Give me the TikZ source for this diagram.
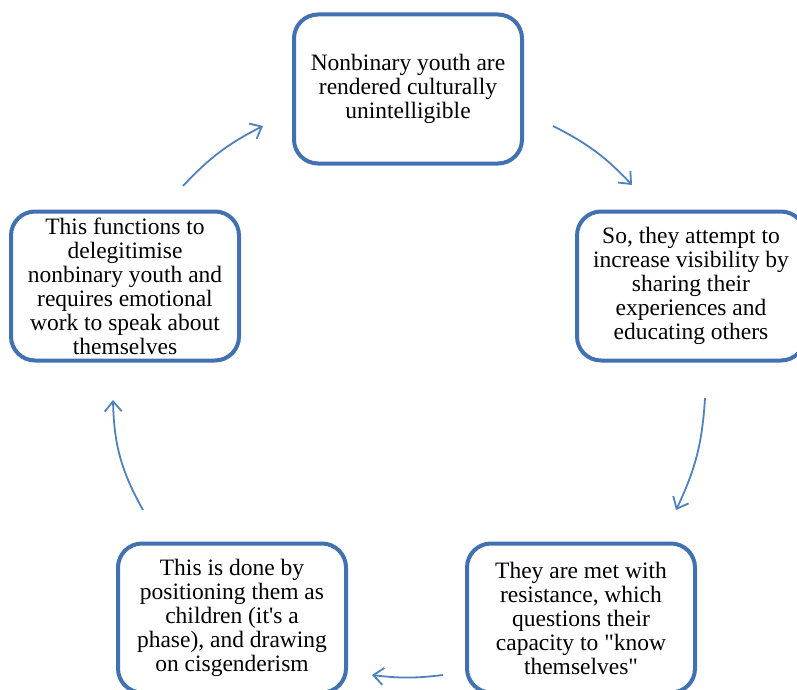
\documentclass[tikz,border=0pt]{standalone}
\usepackage{fontspec}
\setmainfont{Liberation Serif}[Ligatures=TeXOff]
\usetikzlibrary{arrows.meta}
\definecolor{boxblue}{RGB}{65,113,176}
\definecolor{arrowblue}{RGB}{79,129,189}

\begin{document}
\begin{tikzpicture}[x=1pt,y=-1pt,>={Straight Barb[length=10pt,width=17pt]},
  box/.style={draw=boxblue,line width=4pt,rounded corners=24pt,fill=white,
    minimum width=228pt,minimum height=149pt,inner sep=0pt,align=center,
    font=\fontsize{23.5}{24}\selectfont},
  link/.style={->,draw=arrowblue,line width=1.8pt}]
\clip (0,0) rectangle (797,690);
\node[box] (1) at (408,89) {Nonbinary youth are\\rendered culturally\\unintelligible};
\node[box] (2) at (691,286) {So, they attempt to\\increase visibility by\\sharing their\\experiences and\\educating others};
\node[box] (3) at (581,618) {They are met with\\resistance, which\\questions their\\capacity to "know\\themselves"};
\node[box] (4) at (232,618) {This is done by\\positioning them as\\children (it's a\\phase), and drawing\\on cisgenderism};
\node[box] (5) at (125,286) {This functions to\\delegitimise\\nonbinary youth and\\requires emotional\\work to speak about\\themselves};
% arrow ends
\coordinate (1a) at (553,126); \coordinate (1b) at (632,185);
\coordinate (2a) at (705,398); \coordinate (2b) at (676,510);
\coordinate (3a) at (443,675); \coordinate (3b) at (372,675);
\coordinate (4a) at (143,510); \coordinate (4b) at (113,400);
\coordinate (5a) at (183,186); \coordinate (5b) at (263,126);
\path (1a) edge[link,bend left=10] (1b);
\path (2a) edge[link,bend left=11] (2b);
\path (3a) edge[link,bend left=7] (3b);
\path (4a) edge[link,bend left=14] (4b);
\path (5a) edge[link,bend left=10] (5b);
\end{tikzpicture}
\end{document}
